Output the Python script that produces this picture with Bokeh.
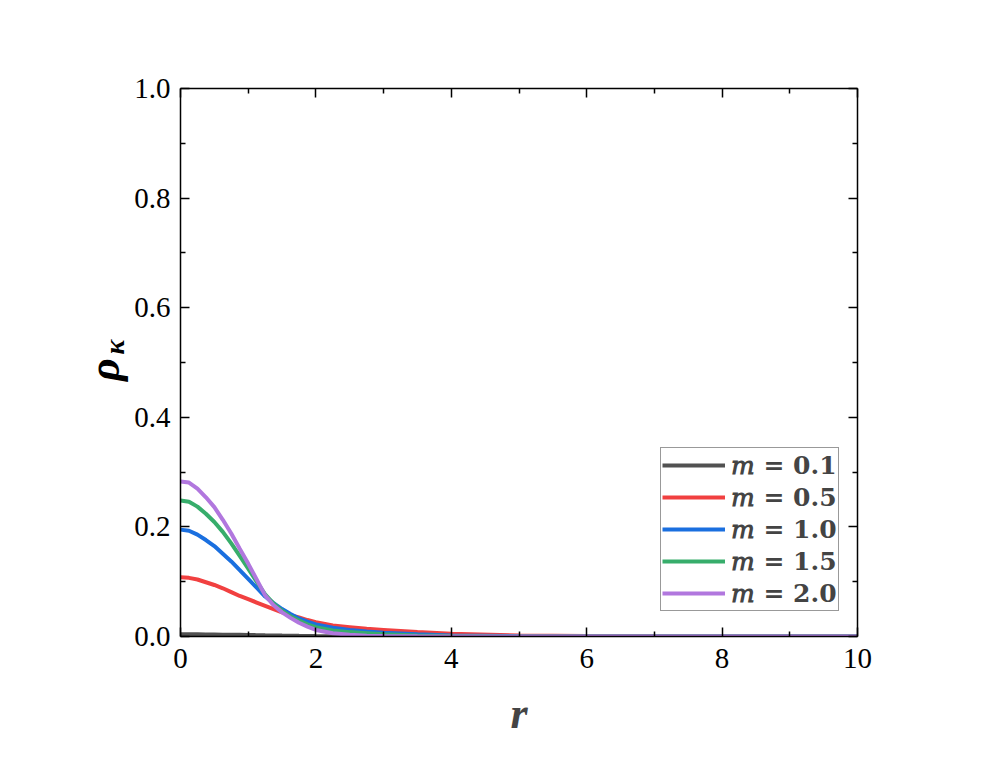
import math
from bokeh.plotting import figure
from bokeh.layouts import row
from bokeh.models import Range1d, LinearAxis, Legend, LegendItem, FixedTicker, CustomJSTickFormatter
from bokeh.core.properties import value
from bokeh.embed import file_html
from bokeh.resources import INLINE

# ---- data ----
r_vals = [0, 0.125, 0.25, 0.375, 0.5, 0.625, 0.75, 0.875, 1.0, 1.125, 1.25, 1.375, 1.5, 1.625, 1.75, 1.875,
          2.0, 2.25, 2.5, 2.75, 3.0, 3.5, 4.0, 5.0, 6.0, 7.0, 8.0, 9.0, 10.0]
rho_m01 = [0.004, 0.004, 0.004, 0.0038, 0.0036, 0.0034, 0.0032, 0.003, 0.0028, 0.0025, 0.0022, 0.002, 0.0017,
           0.0015, 0.0012, 0.001, 0.0008, 0.0005, 0.0003, 0.0002, 0.0001, 0, 0, 0, 0, 0, 0, 0, 0]
rho_m05 = [0.108, 0.107, 0.104, 0.099, 0.094, 0.088, 0.081, 0.074, 0.068, 0.062, 0.056, 0.050, 0.044, 0.039,
           0.035, 0.030, 0.026, 0.020, 0.017, 0.014, 0.012, 0.008, 0.005, 0.002, 0.0008, 0.0003, 0, 0, 0]
rho_m10 = [0.195, 0.193, 0.186, 0.176, 0.165, 0.151, 0.137, 0.121, 0.105, 0.089, 0.073, 0.061, 0.050, 0.041,
           0.033, 0.027, 0.022, 0.016, 0.012, 0.009, 0.007, 0.004, 0.002, 0.0005, 0, 0, 0, 0, 0]
rho_m15 = [0.248, 0.246, 0.237, 0.224, 0.209, 0.191, 0.170, 0.147, 0.124, 0.100, 0.077, 0.060, 0.047, 0.037,
           0.029, 0.022, 0.017, 0.011, 0.008, 0.006, 0.004, 0.002, 0.001, 0, 0, 0, 0, 0, 0]
rho_m20 = [0.283, 0.281, 0.270, 0.254, 0.236, 0.213, 0.188, 0.160, 0.133, 0.104, 0.075, 0.057, 0.044, 0.034,
           0.025, 0.018, 0.012, 0.006, 0.003, 0.0015, 0.001, 0.0003, 0, 0, 0, 0, 0, 0, 0]
labels = ["𝑚 = 0.1", "𝑚 = 0.5", "𝑚 = 1.0", "𝑚 = 1.5", "𝑚 = 2.0"]
colors = ["#515151", "#F14040", "#1A6FDF", "#37AD6B", "#B177DE"]
x_ticks = [0, 2, 4, 6, 8, 10]
y_ticks = [0.0, 0.2, 0.4, 0.6, 0.8, 1.0]
x_minor = [1, 3, 5, 7, 9]
y_minor = [0.1, 0.3, 0.5, 0.7, 0.9]

FONT = "Liberation Serif"
H = 755
LEFT_W = 131

# ---- main plot ----
p = figure(width=859, height=H, output_backend="svg", toolbar_location=None,
           x_range=Range1d(0, 10), y_range=Range1d(0, 1.0),
           min_border_left=47, min_border_right=133, min_border_top=88, min_border_bottom=119)
p.grid.visible = False
p.outline_line_color = None
p.background_fill_color = "white"
p.border_fill_color = "white"

series = [rho_m01, rho_m05, rho_m10, rho_m15, rho_m20]
renderers = []
for ys, c in zip(series, colors):
    renderers.append(p.line(r_vals, ys, line_color=c, line_width=4))

def style_axis(ax, standoff=11):
    ax.axis_line_width = 1.5
    ax.axis_line_color = "black"
    ax.major_tick_in = 9
    ax.major_tick_out = 0
    ax.minor_tick_in = 5
    ax.minor_tick_out = 0
    ax.major_tick_line_width = 1.5
    ax.minor_tick_line_width = 1.5
    ax.major_label_text_font = FONT
    ax.major_label_text_font_size = "29px"
    ax.major_label_text_color = "black"
    ax.major_label_standoff = standoff

xa = p.xaxis[0]
xa.ticker = FixedTicker(ticks=x_ticks, minor_ticks=x_minor)
style_axis(xa, standoff=12)
xa.major_label_overrides = {t: str(t) for t in x_ticks}
xa.axis_label = "r"
xa.axis_label_text_font = FONT
xa.axis_label_text_font_style = "bold italic"
xa.axis_label_text_font_size = "44px"
xa.axis_label_standoff = 18

ya = p.yaxis[0]
ya.ticker = FixedTicker(ticks=y_ticks, minor_ticks=y_minor)
style_axis(ya, standoff=10)
ya.major_label_overrides = {t: f"{t:.1f}" for t in y_ticks}

blank = CustomJSTickFormatter(code="return ''")
top = LinearAxis(ticker=FixedTicker(ticks=x_ticks, minor_ticks=x_minor), formatter=blank)
style_axis(top)
p.add_layout(top, "above")
right = LinearAxis(ticker=FixedTicker(ticks=y_ticks, minor_ticks=y_minor), formatter=blank)
style_axis(right)
p.add_layout(right, "right")

legend = Legend(items=[LegendItem(label=l, renderers=[rr]) for l, rr in zip(labels, renderers)],
                location=(480, 25), padding=1, spacing=0, margin=0,
                glyph_width=63, glyph_height=32, label_height=32, label_standoff=6,
                label_text_font="DejaVu Serif", label_text_font_style="bold", label_text_font_size="25px",
                border_line_color="#333333", border_line_width=1.2,
                background_fill_color="white", background_fill_alpha=1.0)
p.add_layout(legend)

# ---- left strip holding the rotated y label (rho_kappa) ----
# its frame is aligned with the main plot's frame by the row layout, so it shares the 0..1 y range
lab = figure(width=LEFT_W, height=H, output_backend="svg", toolbar_location=None,
             x_range=Range1d(0, LEFT_W), y_range=Range1d(0, 1.0),
             x_axis_location=None, y_axis_location=None,
             min_border=0, min_border_left=0, min_border_right=0, min_border_top=88, min_border_bottom=119)
lab.grid.visible = False
lab.outline_line_color = None
lab.border_fill_color = "white"
lab.background_fill_color = "white"
lab.text(x=[104], y=[0.487], text=["ρ"], text_font=value(FONT), text_font_style="bold italic",
         text_font_size="44px", angle=math.pi / 2, text_align="center", text_baseline="middle",
         text_color="black")
lab.text(x=[114], y=[0.528], text=["κ"], text_font=value(FONT), text_font_style="bold italic",
         text_font_size="28px", angle=math.pi / 2, text_align="center", text_baseline="middle",
         text_color="black")

layout = row(lab, p, spacing=0)
open("out.html", "w").write(file_html(layout, INLINE))
